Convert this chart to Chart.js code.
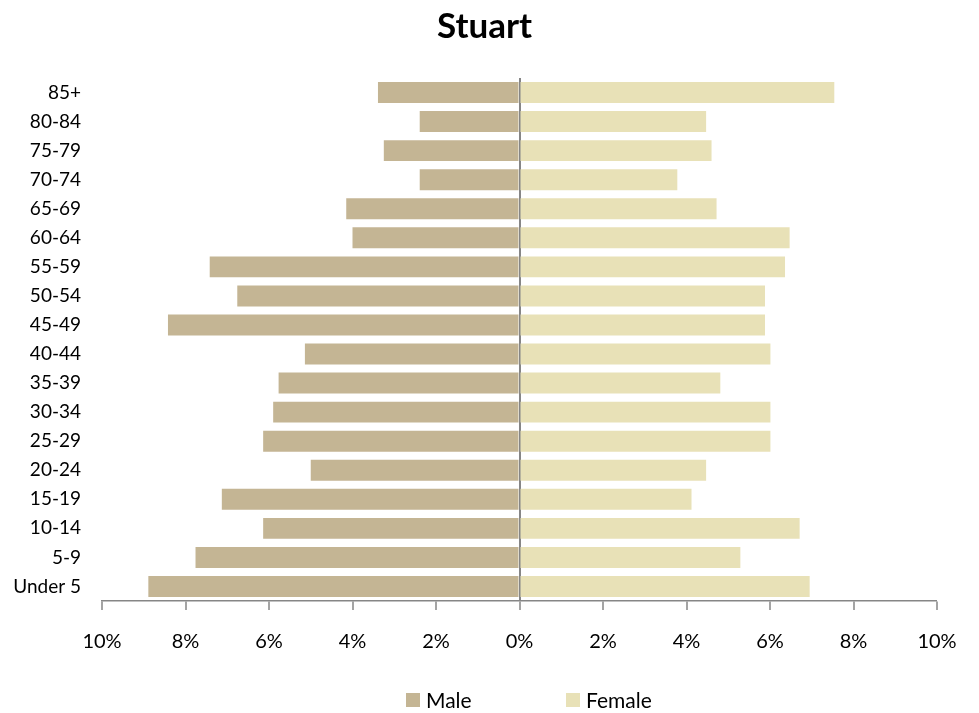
<!DOCTYPE html>
<html>
<head>
<meta charset="utf-8">
<script src="https://cdn.jsdelivr.net/npm/chart.js@4/dist/chart.umd.min.js"></script>
<style>
  html, body { margin: 0; padding: 0; background: #ffffff; }
  #wrap { width: 979px; height: 713px; position: relative; }
</style>
</head>
<body>
<div id="wrap"><canvas id="c"></canvas></div>
<script>
const chartTitle = "Stuart";
const ageGroups = ["85+", "80-84", "75-79", "70-74", "65-69", "60-64", "55-59", "50-54", "45-49",
                   "40-44", "35-39", "30-34", "25-29", "20-24", "15-19", "10-14", "5-9", "Under 5"];
// percentages of population (male shown to the left)
const malePct   = [3.39, 2.39, 3.25, 2.39, 4.15, 4.00, 7.42, 6.76, 8.42,
                   5.14, 5.77, 5.90, 6.14, 5.00, 7.13, 6.14, 7.76, 8.89];
const femalePct = [7.54, 4.47, 4.60, 3.78, 4.72, 6.47, 6.36, 5.88, 5.88,
                   6.01, 4.81, 6.01, 6.01, 4.47, 4.12, 6.71, 5.29, 6.95];
const xTickMin = -10, xTickMax = 10, xTickStep = 2;
const seriesNames = ["Male", "Female"];
const seriesColors = ["#C4B594", "#E8E1B7"];

const FONT = "Lato, 'Open Sans', 'DejaVu Sans', sans-serif";

const customLegend = {
  id: 'customLegend',
  afterDraw(chart) {
    const ctx = chart.ctx;
    const ds = chart.data.datasets;
    const starts = [406, 566];
    const cy = 700;
    ctx.save();
    ctx.font = "21px " + FONT;
    ctx.textBaseline = 'middle';
    ctx.textAlign = 'left';
    ds.forEach((d, i) => {
      ctx.fillStyle = d.backgroundColor;
      ctx.fillRect(starts[i], cy - 7, 14, 14);
      ctx.fillStyle = '#000000';
      ctx.fillText(d.label, starts[i] + 20, cy + 1);
    });
    ctx.restore();
  }
};

new Chart(document.getElementById('c'), {
  type: 'bar',
  data: {
    labels: ageGroups,
    datasets: [
      { label: seriesNames[0], data: malePct.map(v => -v), backgroundColor: seriesColors[0],
        barPercentage: 0.72, categoryPercentage: 1.0 },
      { label: seriesNames[1], data: femalePct, backgroundColor: seriesColors[1],
        barPercentage: 0.72, categoryPercentage: 1.0 }
    ]
  },
  options: {
    indexAxis: 'y',
    responsive: true,
    maintainAspectRatio: false,
    animation: false,
    layout: { padding: { left: 0, right: 10, top: 0, bottom: 52 } },
    plugins: {
      legend: { display: false },
      tooltip: { enabled: false },
      title: {
        display: true,
        text: chartTitle,
        color: '#000000',
        font: { family: FONT, size: 35, weight: 'bold', lineHeight: 1.2 },
        padding: { top: 6, bottom: 30 }
      }
    },
    scales: {
      x: {
        stacked: true,
        min: xTickMin, max: xTickMax,
        afterFit(scale) { scale.height = 60; },
        ticks: {
          stepSize: xTickStep,
          padding: 20,
          color: '#000000',
          font: { family: FONT, size: 20 },
          maxRotation: 0,
          callback: (v) => Math.abs(v) + '%'
        },
        grid: {
          display: true,
          drawTicks: true,
          tickLength: 9,
          tickColor: '#868686',
          tickWidth: 1.5,
          lineWidth: (c) => (c.tick && c.tick.value === 0 ? 2 : 0),
          color: (c) => (c.tick && c.tick.value === 0 ? '#868686' : 'rgba(0,0,0,0)')
        },
        border: { display: true, color: '#868686', width: 1.5 }
      },
      y: {
        stacked: true,
        afterFit(scale) { scale.width = 102; },
        ticks: {
          padding: 21,
          color: '#000000',
          font: { family: FONT, size: 19 }
        },
        grid: { display: false, drawTicks: false },
        border: { display: false }
      },
      yRightSpace: {
        type: 'linear',
        axis: 'y',
        position: 'right',
        display: true,
        afterFit(scale) { scale.width = 32; },
        ticks: { display: false },
        grid: { display: false, drawTicks: false },
        border: { display: false }
      }
    }
  },
  plugins: [customLegend]
});
</script>
</body>
</html>
